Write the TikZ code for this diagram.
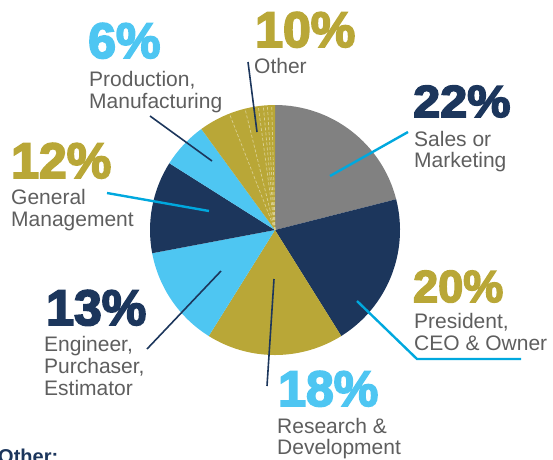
\documentclass[tikz,border=0pt]{standalone}
\usepackage{fontspec}
\setmainfont{Liberation Sans}
\newfontfamily\bigfont{Liberation Sans}[BoldFeatures={FakeBold=3.5}]
\definecolor{navy}{HTML}{1C365C}
\definecolor{gold}{HTML}{B9A737}
\definecolor{lblue}{HTML}{4EC6F2}
\definecolor{slate}{HTML}{818181}
\definecolor{cyanline}{HTML}{00A8DE}
\definecolor{txtgray}{HTML}{5E5E5E}
\begin{document}
\begin{tikzpicture}[x=1pt,y=1pt,
  pct/.style={font=\bigfont\bfseries\fontsize{50}{50}\selectfont, inner sep=0pt, anchor=base west},
  pctsmall/.style={font=\bigfont\bfseries\fontsize{45}{45}\selectfont, inner sep=0pt, anchor=base west},
  lbl/.style={font=\fontsize{21}{22}\selectfont, text=txtgray, inner sep=0pt, anchor=base west},
  navyline/.style={draw=navy, line width=1.6pt},
  cyanconn/.style={draw=cyanline, line width=2.4pt},
  subslice/.style={draw=gold!55!white, line width=0.7pt, dash pattern=on 3pt off 2pt}]
\useasboundingbox (0,0) rectangle (553,-459);
\coordinate (C) at (275,-230);
% wedges
\fill[slate] (C) -- ++(90:125) arc[start angle=90, end angle=14.25, radius=125] -- cycle;
\fill[navy] (C) -- ++(14.25:125) arc[start angle=14.25, end angle=-58, radius=125] -- cycle;
\fill[gold] (C) -- ++(-58:125) arc[start angle=-58, end angle=-122, radius=125] -- cycle;
\fill[lblue] (C) -- ++(-122:125) arc[start angle=-122, end angle=-169.3, radius=125] -- cycle;
\fill[navy] (C) -- ++(190.7:125) arc[start angle=190.7, end angle=147.7, radius=125] -- cycle;
\fill[lblue] (C) -- ++(147.7:125) arc[start angle=147.7, end angle=126.1, radius=125] -- cycle;
\fill[gold] (C) -- ++(126.1:125) arc[start angle=126.1, end angle=90, radius=125] -- cycle;
% sub-slices of Other
\foreach \a in {111.4,103.9,97.7,95.4,93.5,91.5}
  \draw[subslice] (C) -- ++(\a:125);
% percentages
\node[pct, text=lblue] (p6) at (88,-58) {6\%};
\node[pct, text=gold] (p10) at (255,-47) {10\%};
\node[pctsmall, text=navy, xscale=1.08] (p22) at (413,-117) {22\%};
\node[pct, text=gold] (p12) at (11,-178) {12\%};
\node[pct, text=navy] (p13) at (46,-325) {13\%};
\node[pctsmall, text=gold] (p20) at (413,-302) {20\%};
\node[pct, text=lblue] (p18) at (278,-406) {18\%};
% labels
\node[lbl] (l6a) at (89,-86) {Production,};
\node[lbl] (l6b) at (89,-108) {Manufacturing};
\node[lbl] (l10) at (254,-73) {Other};
\node[lbl] (l22a) at (414,-146) {Sales or};
\node[lbl] (l22b) at (414,-167) {Marketing};
\node[lbl] (l12a) at (11,-204) {General};
\node[lbl] (l12b) at (11,-226) {Management};
\node[lbl] (l13a) at (44,-351) {Engineer,};
\node[lbl] (l13b) at (44,-373) {Purchaser,};
\node[lbl] (l13c) at (44,-395) {Estimator};
\node[lbl] (l20a) at (414,-328) {President,};
\node[lbl] (l20b) at (414,-350) {CEO \& Owner};
\node[lbl] (l18a) at (277,-433) {Research \&};
\node[lbl] (l18b) at (277,-454) {Development};
\node[font=\bfseries\fontsize{20}{20}\selectfont, text=navy, inner sep=0pt, anchor=base west] (oth) at (-2,-463) {Other:};
% connector end points
\coordinate (s6) at (150,-116); \coordinate (e6) at (212,-161);
\coordinate (s10) at (248,-62); \coordinate (e10) at (257,-132);
\coordinate (s22) at (408,-132); \coordinate (e22) at (330,-176);
\coordinate (s12) at (107,-193); \coordinate (e12) at (209,-211);
\coordinate (s13) at (147,-349); \coordinate (e13) at (221,-271);
\coordinate (s18) at (267,-386); \coordinate (e18) at (274,-279);
\coordinate (s20) at (521,-359); \coordinate (m20) at (417,-359); \coordinate (e20) at (357,-301);
% connectors
\draw[navyline] (s6) -- (e6);
\draw[navyline] (s10) -- (e10);
\draw[cyanconn] (s22) -- (e22);
\draw[cyanconn] (s12) -- (e12);
\draw[navyline] (s13) -- (e13);
\draw[navyline] (s18) -- (e18);
\draw[cyanconn] (s20) -- (m20) -- (e20);
\end{tikzpicture}
\end{document}
